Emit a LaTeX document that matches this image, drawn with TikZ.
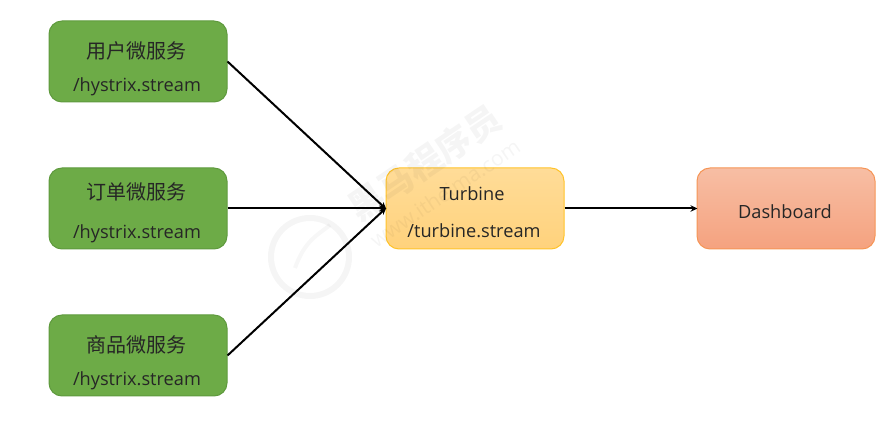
\documentclass[tikz,border=0pt]{standalone}
\usepackage{fontspec}
\setmainfont{Open Sans}
\newfontfamily\cjk{Noto Sans CJK SC}
\usetikzlibrary{positioning,arrows.meta}
\definecolor{svcfill}{HTML}{6DAB47}
\definecolor{svcline}{HTML}{5F9A3E}
\definecolor{turbtop}{HTML}{FFDC98}
\definecolor{turbbot}{HTML}{FFD27C}
\definecolor{turbline}{HTML}{FFC32A}
\definecolor{boardtop}{HTML}{F7BEA4}
\definecolor{boardbot}{HTML}{F5A27F}
\definecolor{boardline}{HTML}{F59556}
\tikzset{
box/.style={draw, line width=1pt, rounded corners=13pt, minimum width=178pt, minimum height=81pt, inner sep=0pt},
svc/.style={box, fill=svcfill, draw=svcline},
turb/.style={box, draw=turbline, top color=turbtop, bottom color=turbbot},
dash board/.style={box, draw=boardline, top color=boardtop, bottom color=boardbot},
txt/.style={text=black!85, font=\fontsize{18.2}{18.2}\selectfont, inner sep=0pt},
cn/.style={txt, font=\cjk\fontsize{20}{20}\selectfont},
mark text/.style={text=black, opacity=0.04, rotate=34, inner sep=0pt},
link/.style={line width=2pt, -{Stealth[length=7pt,width=6.5pt]}, shorten >=-1pt}
}
\begin{document}
\begin{tikzpicture}[x=1pt,y=-1pt]
\useasboundingbox (0,0) rectangle (889,427);

\node[svc] (user) at (138,61.5) {};
\node[svc] (order) at (138,208.5) {};
\node[svc] (goods) at (138,355.5) {};
\node[turb] (turbine) at (475,208.5) {};
\node[dash board] (board) at (786,208.5) {};

% watermark
\node[mark text, font=\cjk\bfseries\fontsize{35}{35}\selectfont] (markA) at (425,163) {黑马程序员};
\node[mark text, font=\fontsize{21}{21}\selectfont] (markB) at (445,193) {www.itheima.com};
\draw[black, opacity=0.04, line width=6pt] (310,257) circle (39pt);
\draw[black, opacity=0.03, line width=4pt] (295,268) .. controls (305,240) and (318,235) .. (330,225);

\node[cn] (userT) at (136,51) {用户微服务};
\node[txt] (userS) at (137,86.5) {/hystrix.stream};
\node[cn] (orderT) at (136,192) {订单微服务};
\node[txt] (orderS) at (137,233.5) {/hystrix.stream};
\node[cn] (goodsT) at (136,345) {商品微服务};
\node[txt] (goodsS) at (137,380.5) {/hystrix.stream};
\node[txt] (turbineT) at (472,193.5) {Turbine};
\node[txt] (turbineS) at (474,230.5) {/turbine.stream};
\node[txt] (boardT) at (785,211.5) {Dashboard};

\draw[link] (user.east) -- (turbine.west);
\draw[link] (order.east) -- (turbine.west);
\draw[link] (goods.east) -- (turbine.west);
\draw[link] (turbine.east) -- (board.west);
\end{tikzpicture}
\end{document}
